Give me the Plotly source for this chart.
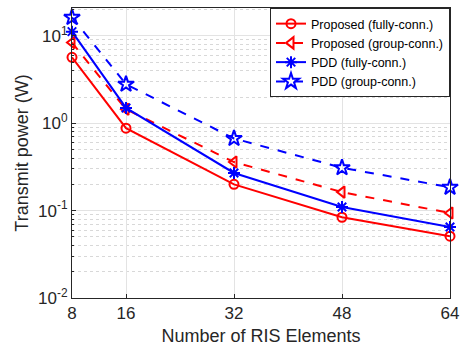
import plotly.graph_objects as go

ris_elements = [8, 16, 32, 48, 64]
proposed_fully = [5.7, 0.88, 0.20, 0.084, 0.051]
proposed_group = [8.4, 1.45, 0.36, 0.163, 0.094]
pdd_fully = [11.2, 1.5, 0.27, 0.11, 0.065]
pdd_group = [16.3, 2.8, 0.67, 0.31, 0.185]

ytick_vals = [0.01, 0.1, 1, 10]
ytick_text = ["10<sup>-2</sup>", "10<sup>-1</sup>", "10<sup>0</sup>", "10<sup>1</sup>"]

fig = go.Figure()
series = [
    ("Proposed (fully-conn.)", proposed_fully, "#FF0000", "solid", "circle-open", 9),
    ("Proposed (group-conn.)", proposed_group, "#FF0000", "dash", "triangle-left-open", 10),
    ("PDD (fully-conn.)", pdd_fully, "#0000FF", "solid", "asterisk-open", 10),
    ("PDD (group-conn.)", pdd_group, "#0000FF", "dash", "star-open", 12),
]
for name, ys, col, dash, sym, sz in series:
    fig.add_trace(go.Scatter(
        x=ris_elements, y=ys, name=name, mode="lines+markers",
        cliponaxis=False,
        line=dict(color=col, width=2, dash=dash),
        marker=dict(symbol=sym, size=sz, color=col, line=dict(color=col, width=2)),
    ))

fig.update_layout(
    width=466, height=349,
    margin=dict(l=72, r=13, t=7, b=51),
    paper_bgcolor="white", plot_bgcolor="white",
    font=dict(family="Liberation Sans, Arial, sans-serif", color="#262626"),
    legend=dict(x=1, y=1, xanchor="right", yanchor="top",
                bgcolor="white", bordercolor="#262626", borderwidth=1,
                font=dict(size=12.5, color="black"), tracegroupgap=0,
                itemwidth=30),
    showlegend=True,
)
fig.update_xaxes(
    range=[8, 64], tickvals=ris_elements, ticktext=[str(v) for v in ris_elements],
    showgrid=True, gridcolor="#e3e3e3", gridwidth=1,
    showline=True, linecolor="#262626", linewidth=1, mirror=True,
    ticks="inside", ticklen=4, tickcolor="#262626",
    tickfont=dict(size=17),
    title=dict(text="Number of RIS Elements", font=dict(size=18), standoff=6),
    zeroline=False,
)
fig.update_yaxes(
    type="log", range=[-2, 1.32],
    tickvals=ytick_vals, ticktext=ytick_text,
    showgrid=True, gridcolor="#e3e3e3", gridwidth=1,
    minor=dict(showgrid=True, gridcolor="#d8d8d8", griddash="dot", gridwidth=1,
               ticks="inside", ticklen=2, tickcolor="#262626",
               tickvals=[m * 10 ** e for e in [-2, -1, 0, 1] for m in range(2, 10)]),
    showline=True, linecolor="#262626", linewidth=1, mirror=True,
    ticks="inside", ticklen=4, tickcolor="#262626",
    tickfont=dict(size=17),
    title=dict(text="Transmit power (W)", font=dict(size=18), standoff=4),
    zeroline=False,
)
fig.write_html("out.html")
